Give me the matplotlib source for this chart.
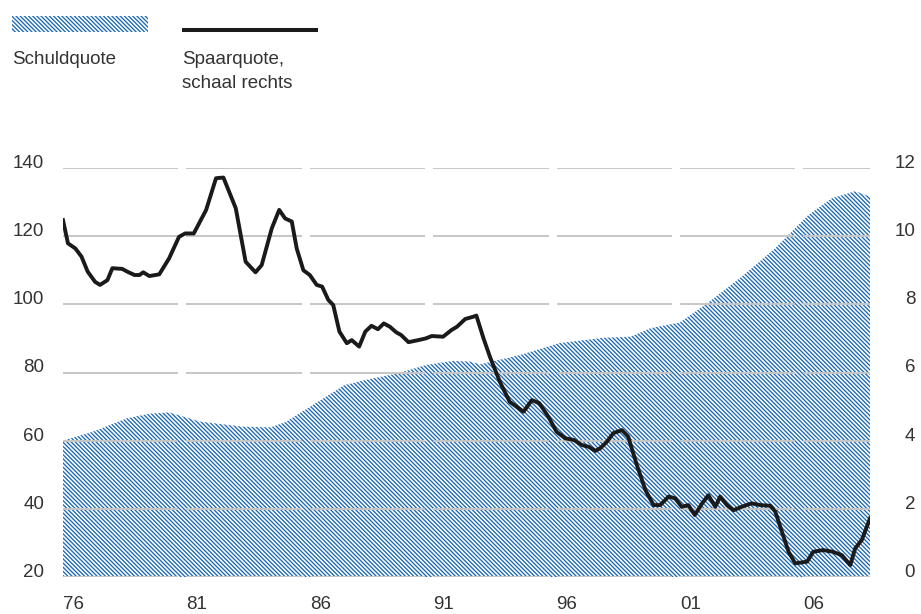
import matplotlib
matplotlib.use("Agg")
import matplotlib.pyplot as plt
from matplotlib.patches import Rectangle
from matplotlib.lines import Line2D
import numpy as np

# Schuldquote (left axis)
debt_years = [1976.0, 1977.2, 1978.6, 1979.5, 1980.3, 1981.55, 1983.3, 1984.4, 1985.0,
              1985.8, 1987.4, 1988.25, 1989.6, 1990.7, 1991.8, 1992.5, 1992.9,
              1994.5, 1996.1, 1997.9, 1999.0, 1999.8, 2001.0, 2002.1, 2003.5,
              2004.85, 2006.2, 2007.15, 2008.1, 2008.7]
debt = [60.0, 62.6, 66.6, 67.9, 68.3, 65.6, 64.1, 63.9, 65.4,
        69.0, 76.3, 77.8, 79.8, 82.2, 83.4, 83.2, 82.4,
        85.1, 88.6, 90.2, 90.5, 93.0, 94.7, 100.3, 108.1,
        116.4, 126.2, 131.1, 133.2, 131.6]

# Spaarquote (right axis)
save_years = [1976.0, 1976.2, 1976.5, 1976.75, 1977.0, 1977.3, 1977.5, 1977.8,
              1978.0, 1978.4, 1978.6, 1978.9, 1979.1, 1979.25, 1979.5, 1979.9,
              1980.3, 1980.7, 1980.95, 1981.3, 1981.8, 1982.2, 1982.5, 1983.0,
              1983.4, 1983.8, 1984.05, 1984.46, 1984.76, 1985.0, 1985.27, 1985.47,
              1985.74, 1986.0, 1986.28, 1986.5, 1986.75, 1986.95, 1987.2, 1987.5,
              1987.7, 1988.0, 1988.25, 1988.5, 1988.76, 1989.0, 1989.25, 1989.5,
              1989.7, 1990.0, 1990.4, 1990.7, 1990.94, 1991.4, 1991.75, 1991.96,
              1992.3, 1992.64, 1992.75, 1993.04, 1993.3, 1993.7, 1994.1, 1994.66,
              1995.0, 1995.3, 1995.67, 1996.0, 1996.35, 1996.7, 1997.03, 1997.3,
              1997.57, 1997.77, 1998.04, 1998.3, 1998.65, 1998.9, 1999.25, 1999.6,
              1999.93, 2000.2, 2000.54, 2000.8, 2001.07, 2001.34, 2001.6, 2001.9,
              2002.15, 2002.43, 2002.63, 2002.9, 2003.17, 2003.5, 2003.9, 2004.25,
              2004.66, 2004.86, 2005.13, 2005.4, 2005.67, 2006.15, 2006.4, 2006.8,
              2007.2, 2007.56, 2007.9, 2008.1, 2008.37, 2008.7]
saving = [10.47, 9.79, 9.64, 9.4, 8.96, 8.66, 8.57, 8.71,
          9.06, 9.04, 8.96, 8.86, 8.86, 8.94, 8.83, 8.88,
          9.35, 9.98, 10.08, 10.08, 10.77, 11.7, 11.72, 10.82,
          9.25, 8.94, 9.15, 10.23, 10.77, 10.52, 10.43, 9.64,
          9.0, 8.86, 8.57, 8.52, 8.13, 7.98, 7.2, 6.86,
          6.95, 6.76, 7.2, 7.37, 7.27, 7.44, 7.34, 7.18,
          7.1, 6.89, 6.95, 7.0, 7.07, 7.05, 7.25, 7.34,
          7.57, 7.64, 7.67, 7.0, 6.46, 5.73, 5.14, 4.85,
          5.19, 5.1, 4.7, 4.26, 4.07, 4.02, 3.87, 3.82,
          3.7, 3.78, 3.97, 4.22, 4.31, 4.12, 3.29, 2.55,
          2.11, 2.11, 2.36, 2.31, 2.06, 2.11, 1.82, 2.16,
          2.4, 2.06, 2.36, 2.11, 1.96, 2.06, 2.16, 2.11,
          2.09, 1.92, 1.33, 0.74, 0.4, 0.45, 0.74, 0.79,
          0.74, 0.64, 0.35, 0.84, 1.09, 1.72]

x_ticks = [1976, 1981, 1986, 1991, 1996, 2001, 2006]
x_labels = ["76", "81", "86", "91", "96", "01", "06"]
left_ticks = [20, 40, 60, 80, 100, 120, 140]
right_ticks = [0, 2, 4, 6, 8, 10, 12]

BLUE = "#1c68b4"
TXT = "#333333"
GRID = "#c6c6c6"
X_END = 2008.7
HATCH = "\\" * 8

plt.rcParams["font.family"] = ["Liberation Sans", "DejaVu Sans"]
plt.rcParams["hatch.linewidth"] = 0.95

fig = plt.figure(figsize=(9.21, 6.14), dpi=100)
ax = fig.add_axes([63 / 921, 1 - 577 / 614, (870 - 63) / 921, (577 - 168) / 614])
ax2 = ax.twinx()

ax.fill_between(debt_years, 20, debt, facecolor="white", edgecolor=BLUE,
                hatch=HATCH, linewidth=0, zorder=1)

# gridlines split per 5-year band with a small gap before each tick
gap = 8 / 24.67
starts = x_ticks
ends = [t - gap for t in x_ticks[1:]] + [X_END]
for yv in left_ticks:
    ax.hlines([yv] * len(starts), starts, ends, color=GRID, linewidth=1.4, zorder=2)

ax2.plot(save_years, saving, color="#1a1a1a", linewidth=2.8, zorder=3,
         solid_joinstyle="round")

ax.set_xlim(1976, X_END)
ax.set_ylim(20, 140)
ax2.set_ylim(0, 12)

ax.set_xticks(x_ticks)
ax.set_xticklabels(x_labels, ha="left")
ax.set_yticks(left_ticks)
ax.set_yticklabels([str(v) for v in left_ticks], va="baseline")
ax2.set_yticks(right_ticks)
ax2.set_yticklabels([str(v) for v in right_ticks], va="baseline", ha="right")

ax.tick_params(axis="x", length=0, pad=14, labelsize=13.5, labelcolor=TXT)
ax.tick_params(axis="y", length=0, pad=13.5, labelsize=13.5, labelcolor=TXT)
ax2.tick_params(axis="y", length=0, pad=32.5, labelsize=13.5, labelcolor=TXT)

for a in (ax, ax2):
    for s in a.spines.values():
        s.set_visible(False)

# legend drawn in figure pixels
W, H = 921, 614
fig.add_artist(Rectangle((12 / W, 1 - 32 / H), 136 / W, 16 / H, transform=fig.transFigure,
                         facecolor="white", edgecolor=BLUE, hatch=HATCH, linewidth=0))
fig.add_artist(Line2D([182 / W, 318 / W], [1 - 30 / H, 1 - 30 / H], transform=fig.transFigure,
                      color="#1a1a1a", linewidth=2.9, solid_capstyle="butt"))
fig.text(12 / W, 1 - 64 / H, "Schuldquote", fontsize=13.5, color=TXT, va="baseline")
fig.text(182 / W, 1 - 64 / H, "Spaarquote,", fontsize=13.5, color=TXT, va="baseline")
fig.text(182 / W, 1 - 88 / H, "schaal rechts", fontsize=13.5, color=TXT, va="baseline")

fig.savefig("out.png", dpi=100)
